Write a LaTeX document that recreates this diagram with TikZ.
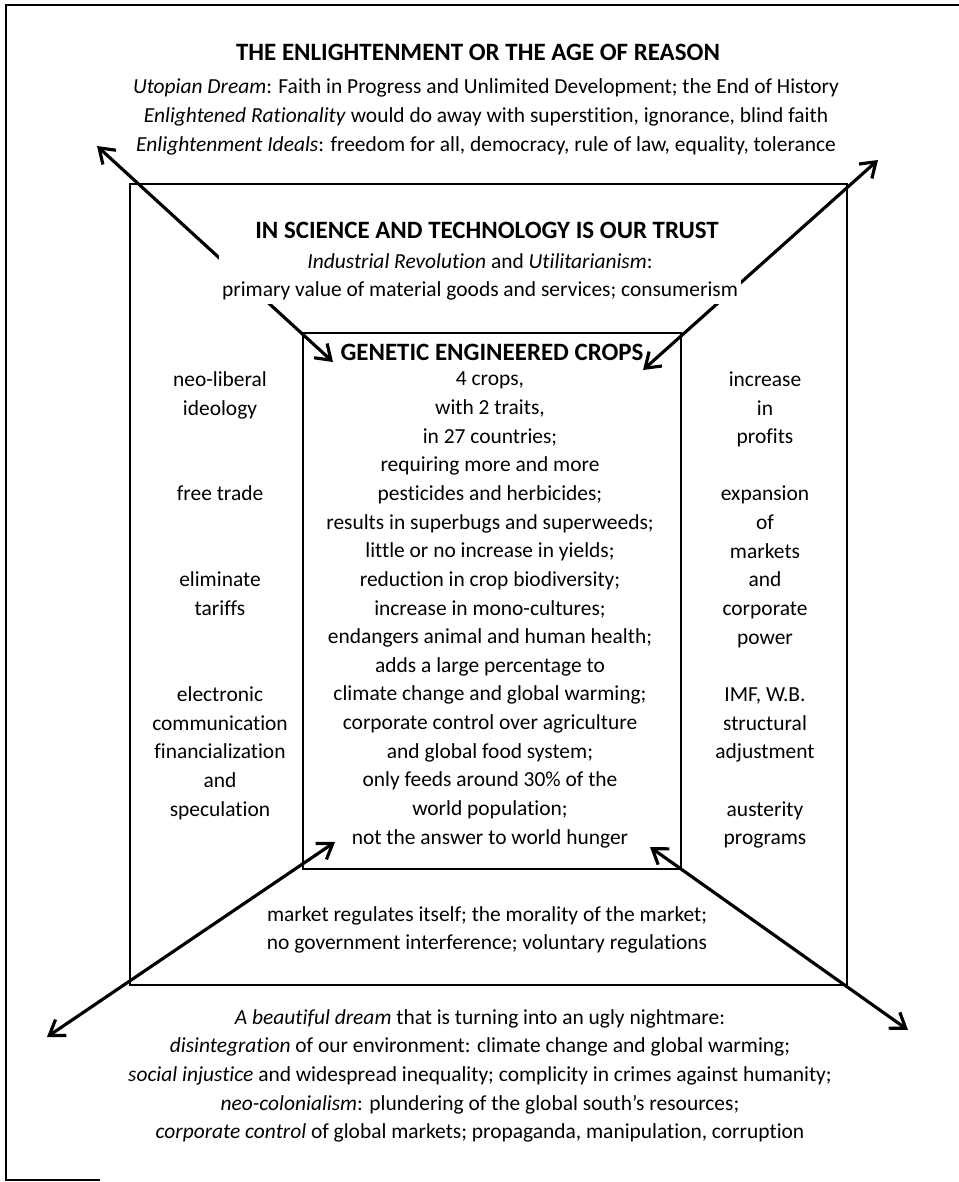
\documentclass[tikz,border=0pt]{standalone}
\usepackage{fontspec}
\setmainfont{Carlito}[Ligatures=NoCommon]
\usetikzlibrary{arrows.meta}
\begin{document}
\begin{tikzpicture}[>={Straight Barb[length=8pt,width=11pt]},x=0.02cm,y=-0.02cm,
    txt/.style={align=center,font=\fontsize{12.2}{16.3}\selectfont,inner sep=2pt},
    hdr/.style={font=\fontsize{14.2}{16.3}\selectfont\bfseries,inner sep=2pt},
    box/.style={line width=0.8pt},
    link/.style={<->,line width=1.8pt}]
\useasboundingbox (0,0) rectangle (959,1182);
% frame and the two boxes
\draw[box] (959,5) -- (6,5) -- (6,1180) -- (100,1180);
\coordinate (mTL) at (130,184);
\coordinate (mBR) at (847,985);
\coordinate (iTL) at (303,333);
\coordinate (iBR) at (681,869);
\draw[box] (mTL) rectangle (mBR);
\draw[box] (iTL) rectangle (iBR);
% diagonals through the corners
\coordinate (aTLo) at (97,146);   \coordinate (aTLi) at (333,362);
\coordinate (aTRo) at (878,160);  \coordinate (aTRi) at (643,370);
\coordinate (aBLo) at (47,1037);  \coordinate (aBLi) at (335,842);
\coordinate (aBRo) at (908,1030); \coordinate (aBRi) at (650,847);
\draw[link] (aTLo) -- (aTLi);
\draw[link] (aTRo) -- (aTRi);
\draw[link] (aBLo) -- (aBLi);
\draw[link] (aBRo) -- (aBRi);
% outer text
\node[hdr] (ageT) at (478,52) {THE ENLIGHTENMENT OR THE AGE OF REASON};
\node[txt] (age) at (486,117) {\textit{Utopian Dream}: Faith in Progress and Unlimited Development; the End of History\\
  \textit{Enlightened Rationality} would do away with superstition, ignorance, blind faith\\
  \textit{Enlightenment Ideals}: freedom for all, democracy, rule of law, equality, tolerance};
% middle box text
\node[hdr] (trustT) at (487,230) {IN SCIENCE AND TECHNOLOGY IS OUR TRUST};
\node[txt,fill=white] (trust) at (480,277) {\textit{Industrial Revolution} and \textit{Utilitarianism}:\\
  primary value of material goods and services; consumerism};
\node[txt] (left) at (220,595.5) {neo-liberal\\ ideology\\ \mbox{}\\ \mbox{}\\ free trade\\ \mbox{}\\ \mbox{}\\
  eliminate\\ tariffs\\ \mbox{}\\ \mbox{}\\ electronic\\ communication\\ financialization\\ and\\ speculation};
\node[txt] (right) at (765,610) {increase\\ in\\ profits\\ \mbox{}\\ expansion\\ of\\ markets\\ and\\ corporate\\ power\\ \mbox{}\\
  IMF, W.B.\\ structural\\ adjustment\\ \mbox{}\\ austerity\\ programs};
\node[txt] (market) at (487,930) {market regulates itself; the morality of the market;\\
  no government interference; voluntary regulations};
% inner box text
\node[hdr] (gmoT) at (492,352) {GENETIC ENGINEERED CROPS};
\node[txt] (gmo) at (490,610) {4 crops,\\ with 2 traits,\\ in 27 countries;\\ requiring more and more\\
  pesticides and herbicides;\\ results in superbugs and superweeds;\\ little or no increase in yields;\\
  reduction in crop biodiversity;\\ increase in mono-cultures;\\ endangers animal and human health;\\
  adds a large percentage to\\ climate change and global warming;\\ corporate control over agriculture\\
  and global food system;\\ only feeds around 30\% of the\\ world population;\\ not the answer to world hunger};
% bottom text
\node[txt] (dream) at (480,1076) {\textit{A beautiful dream} that is turning into an ugly nightmare:\\
  \textit{disintegration} of our environment: climate change and global warming;\\
  \textit{social injustice} and widespread inequality; complicity in crimes against humanity;\\
  \textit{neo-colonialism}: plundering of the global south’s resources;\\
  \textit{corporate control} of global markets; propaganda, manipulation, corruption};
\end{tikzpicture}
\end{document}
